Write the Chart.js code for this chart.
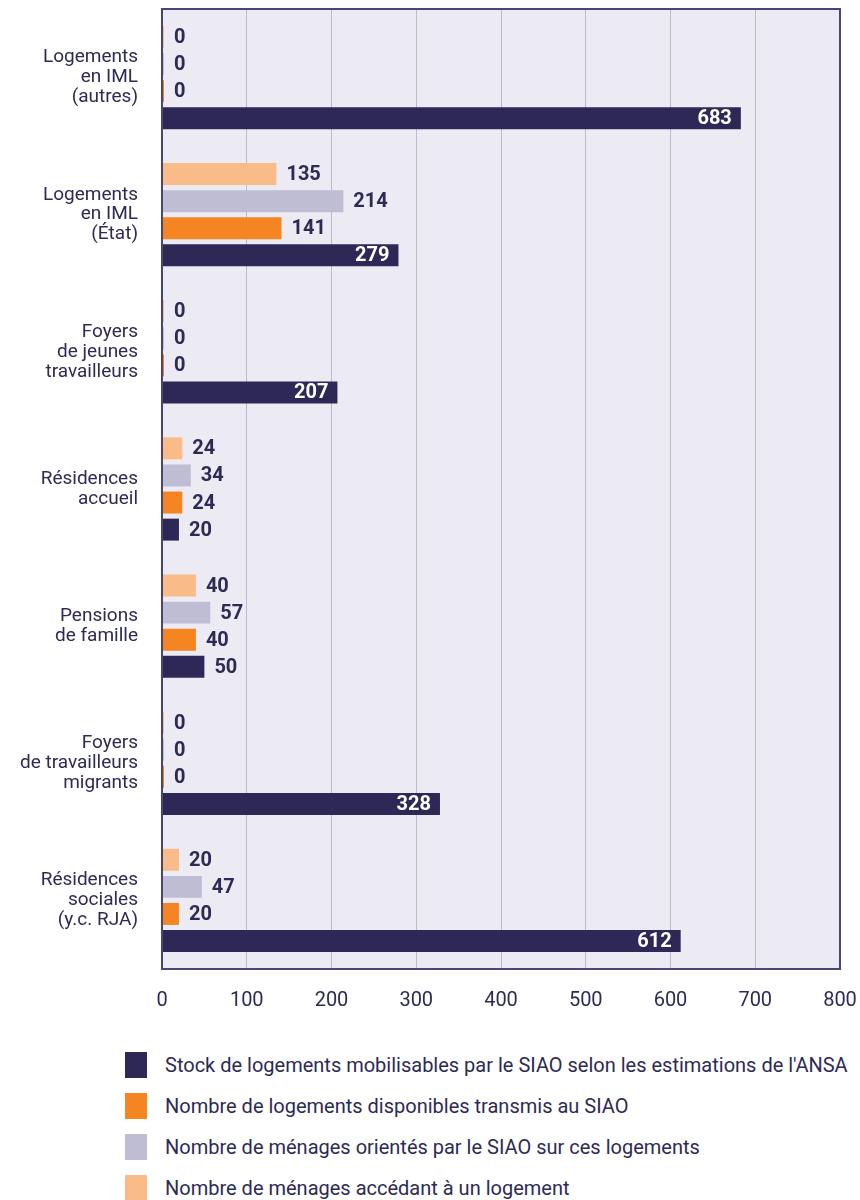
<!DOCTYPE html>
<html lang="fr">
<head>
<meta charset="utf-8">
<title>SIAO - logements</title>
<script src="https://cdn.jsdelivr.net/npm/chart.js@4"></script>
<style>
  body { margin: 0; background: #fff; font-family: Roboto, "Noto Sans", sans-serif; color: #2d2a55; }
  #wrap { position: relative; width: 860px; height: 1030px; }
  .legend { position: absolute; left: 125px; top: 1052px; }
  .legend-item { display: flex; align-items: center; height: 26px; margin-bottom: 15px; }
  .legend-item span.box { width: 22px; height: 26px; margin-right: 18px; }
  .legend-item span.txt { font-size: 20px; }
</style>
</head>
<body>
<div id="wrap"><canvas id="myBarChart" width="860" height="1030"></canvas></div>
<div class="legend" id="legend"></div>
<script>
const categories = [
    ['Logements', 'en IML', '(autres)'],
    ['Logements', 'en IML', '(État)'],
    ['Foyers', 'de jeunes', 'travailleurs'],
    ['Résidences', 'accueil'],
    ['Pensions', 'de famille'],
    ['Foyers', 'de travailleurs', 'migrants'],
    ['Résidences', 'sociales', '(y.c. RJA)']
];
const accedant = [0, 135, 0, 24, 40, 0, 20];
const orientes = [0, 214, 0, 34, 57, 0, 47];
const disponibles = [0, 141, 0, 24, 40, 0, 20];
const stock = [683, 279, 207, 20, 50, 328, 612];
const xTicks = [0, 100, 200, 300, 400, 500, 600, 700, 800];

const navy = '#2e2856';
const textColor = '#2d2a55';

const datasets = [
    { label: 'Nombre de ménages accédant à un logement', data: accedant, backgroundColor: '#f9bb87' },
    { label: 'Nombre de ménages orientés par le SIAO sur ces logements', data: orientes, backgroundColor: '#bfbdd3' },
    { label: 'Nombre de logements disponibles transmis au SIAO', data: disponibles, backgroundColor: '#f58523' },
    { label: 'Stock de logements mobilisables par le SIAO selon les estimations de l\'ANSA', data: stock, backgroundColor: navy }
];
datasets.forEach(d => {
    d.barPercentage = 0.81;
    d.categoryPercentage = 0.79;
    d.minBarLength = 2;
    d.borderWidth = 0;
});

// plot background + frame
const plotBg = {
    id: 'plotBg',
    beforeDraw(chart) {
        const { ctx, chartArea: a } = chart;
        ctx.save();
        ctx.fillStyle = '#ecebf3';
        ctx.fillRect(a.left, a.top, a.right - a.left, a.bottom - a.top);
        ctx.restore();
    },
    afterDraw(chart) {
        const { ctx, chartArea: a } = chart;
        ctx.save();
        ctx.strokeStyle = '#4a4577';
        ctx.lineWidth = 2;
        ctx.strokeRect(a.left, a.top, a.right - a.left, a.bottom - a.top);
        ctx.restore();
    }
};

// value labels
const valueLabels = {
    id: 'valueLabels',
    afterDatasetsDraw(chart) {
        const ctx = chart.ctx;
        ctx.save();
        ctx.font = 'bold 20px Roboto, "Noto Sans", sans-serif';
        ctx.textBaseline = 'middle';
        chart.data.datasets.forEach((ds, i) => {
            const meta = chart.getDatasetMeta(i);
            meta.data.forEach((bar, j) => {
                const v = ds.data[j];
                if (i === 3 && v > 100) {
                    ctx.fillStyle = '#ffffff';
                    ctx.textAlign = 'right';
                    ctx.fillText(v, bar.x - 9, bar.y + 1);
                } else {
                    ctx.fillStyle = textColor;
                    ctx.textAlign = 'left';
                    ctx.fillText(v, bar.x + 10, bar.y + 1);
                }
            });
        });
        ctx.restore();
    }
};

const ctx = document.getElementById('myBarChart').getContext('2d');

new Chart(ctx, {
    type: 'bar',
    data: { labels: categories, datasets: datasets },
    options: {
        indexAxis: 'y',
        responsive: false,
        animation: false,
        layout: { padding: { top: 9, right: 20, bottom: 11, left: 0 } },
        plugins: {
            legend: { display: false },
            tooltip: { enabled: false }
        },
        scales: {
            x: {
                min: 0,
                max: 800,
                afterBuildTicks: (scale) => { scale.ticks = xTicks.map(v => ({ value: v })); },
                afterFit: (scale) => {
                    scale.height = 50;
                    scale.paddingLeft = 0;
                    scale.paddingRight = 0;
                },
                grid: { color: '#bdb9d2', lineWidth: 1, drawTicks: false },
                border: { display: false },
                ticks: {
                    padding: 20,
                    color: textColor,
                    font: { family: 'Roboto, sans-serif', size: 20 }
                }
            },
            y: {
                afterFit: (scale) => {
                    scale.width = 162;
                    scale.paddingTop = 0;
                    scale.paddingBottom = 0;
                },
                grid: { display: false, drawTicks: false },
                border: { display: true, color: navy, width: 2 },
                ticks: {
                    padding: 24,
                    color: textColor,
                    font: { family: 'Roboto, "Noto Sans", sans-serif', size: 19, lineHeight: 1.05 }
                }
            }
        }
    },
    plugins: [plotBg, valueLabels]
});

// legend, stock first
const legend = document.getElementById('legend');
datasets.slice().reverse().forEach(d => {
    const item = document.createElement('div');
    item.className = 'legend-item';
    item.innerHTML = '<span class="box" style="background:' + d.backgroundColor + '"></span><span class="txt"></span>';
    item.querySelector('.txt').textContent = d.label;
    legend.appendChild(item);
});
</script>
</body>
</html>
